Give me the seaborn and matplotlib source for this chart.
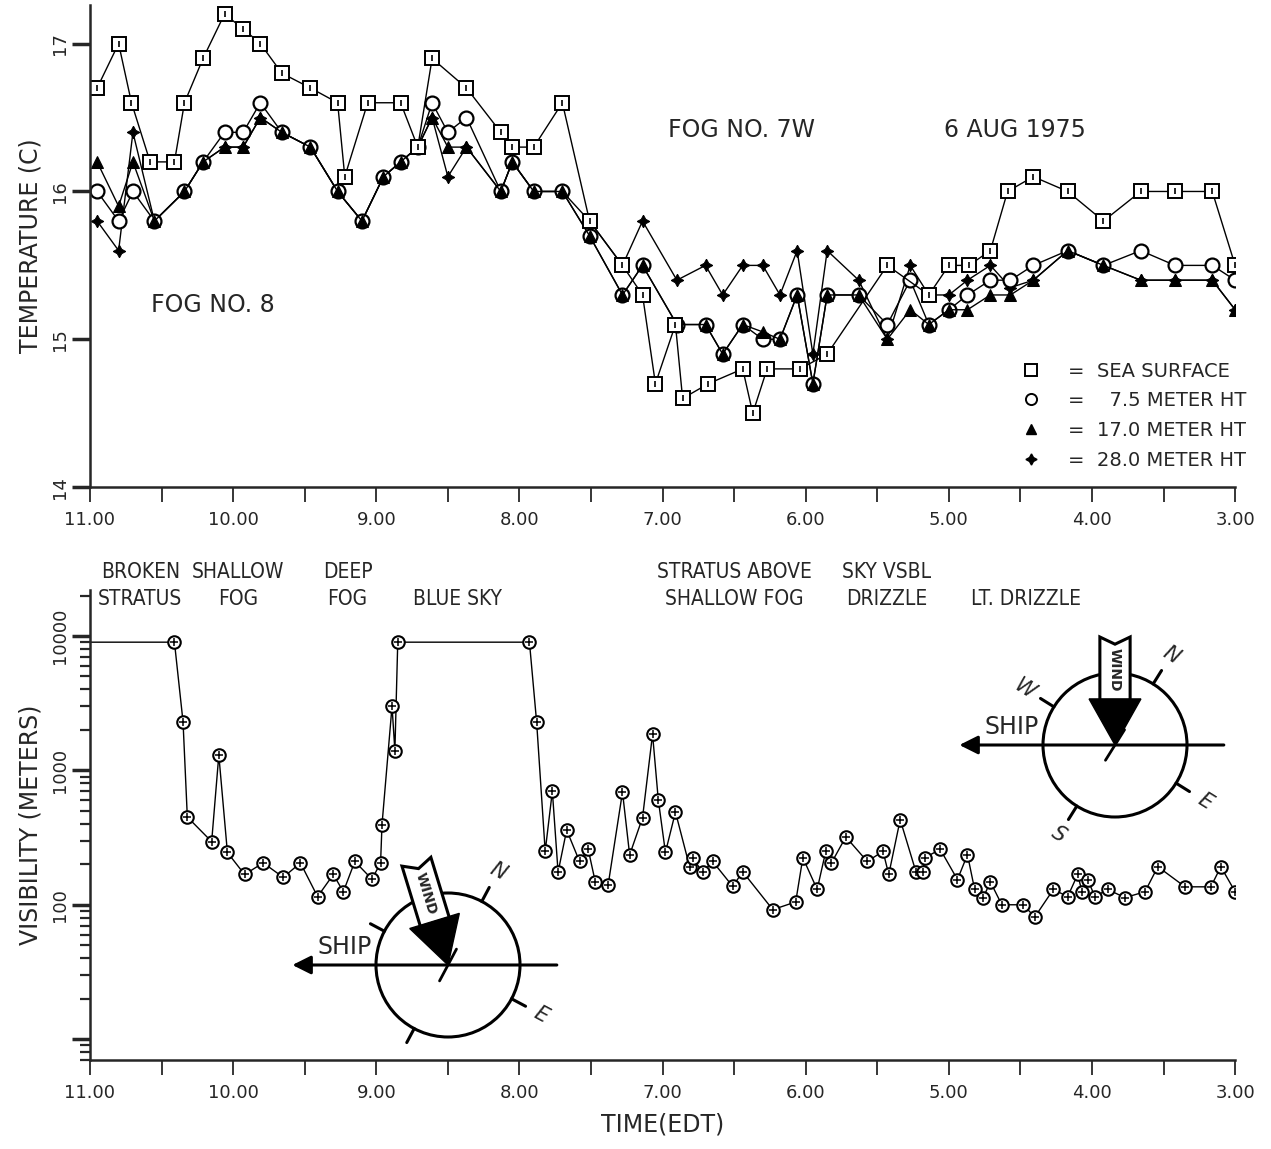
import numpy as np
import pandas as pd
import seaborn as sns
import matplotlib.pyplot as plt
import matplotlib.ticker as mticker
from matplotlib.lines import Line2D
from matplotlib.patches import Circle, Polygon

# Temperature, sea surface (time in hours, as labelled on the axis)
t_sea = [10.95, 10.80, 10.71, 10.58, 10.41, 10.34, 10.21, 10.06, 9.93, 9.81,
         9.66, 9.46, 9.27, 9.22, 9.06, 8.83, 8.71, 8.61, 8.37, 8.13,
         8.05, 7.90, 7.70, 7.51, 7.28, 7.14, 7.05, 6.91, 6.86, 6.68,
         6.44, 6.37, 6.27, 6.04, 5.85, 5.43, 5.14, 5.00, 4.86, 4.71,
         4.59, 4.41, 4.17, 3.92, 3.66, 3.42, 3.16, 3.00]
temp_sea = [16.7, 17.0, 16.6, 16.2, 16.2, 16.6, 16.9, 17.2, 17.1, 17.0,
            16.8, 16.7, 16.6, 16.1, 16.6, 16.6, 16.3, 16.9, 16.7, 16.4,
            16.3, 16.3, 16.6, 15.8, 15.5, 15.3, 14.7, 15.1, 14.6, 14.7,
            14.8, 14.5, 14.8, 14.8, 14.9, 15.5, 15.3, 15.5, 15.5, 15.6,
            16.0, 16.1, 16.0, 15.8, 16.0, 16.0, 16.0, 15.5]

# Temperature at the three mast heights
t_air = [10.95, 10.80, 10.70, 10.55, 10.34, 10.21, 10.06, 9.93, 9.81, 9.66,
         9.46, 9.27, 9.10, 8.95, 8.83, 8.71, 8.61, 8.50, 8.37, 8.13,
         8.05, 7.90, 7.70, 7.51, 7.28, 7.14, 6.90, 6.70, 6.58, 6.44,
         6.30, 6.18, 6.06, 5.95, 5.85, 5.63, 5.43, 5.27, 5.14, 5.00,
         4.87, 4.71, 4.57, 4.41, 4.17, 3.92, 3.66, 3.42, 3.16, 3.00]
temp_7_5 = [16.0, 15.8, 16.0, 15.8, 16.0, 16.2, 16.4, 16.4, 16.6, 16.4,
            16.3, 16.0, 15.8, 16.1, 16.2, 16.3, 16.6, 16.4, 16.5, 16.0,
            16.2, 16.0, 16.0, 15.7, 15.3, 15.5, 15.1, 15.1, 14.9, 15.1,
            15.0, 15.0, 15.3, 14.7, 15.3, 15.3, 15.1, 15.4, 15.1, 15.2,
            15.3, 15.4, 15.4, 15.5, 15.6, 15.5, 15.6, 15.5, 15.5, 15.4]
temp_17 = [16.2, 15.9, 16.2, 15.8, 16.0, 16.2, 16.3, 16.3, 16.5, 16.4,
           16.3, 16.0, 15.8, 16.1, 16.2, 16.3, 16.5, 16.3, 16.3, 16.0,
           16.2, 16.0, 16.0, 15.7, 15.3, 15.5, 15.1, 15.1, 14.9, 15.1,
           15.05, 15.0, 15.3, 14.7, 15.3, 15.3, 15.0, 15.2, 15.1, 15.2,
           15.2, 15.3, 15.3, 15.4, 15.6, 15.5, 15.4, 15.4, 15.4, 15.2]
temp_28 = [15.8, 15.6, 16.4, 15.8, 16.0, 16.2, 16.3, 16.3, 16.5, 16.4,
           16.3, 16.0, 15.8, 16.1, 16.2, 16.3, 16.5, 16.1, 16.3, 16.0,
           16.2, 16.0, 16.0, 15.8, 15.5, 15.8, 15.4, 15.5, 15.3, 15.5,
           15.5, 15.3, 15.6, 14.9, 15.6, 15.4, 15.0, 15.5, 15.3, 15.3,
           15.4, 15.5, 15.35, 15.4, 15.6, 15.5, 15.4, 15.4, 15.4, 15.2]

# Visibility (meters)
t_vis = [11.00, 10.41, 10.35, 10.32, 10.15, 10.10, 10.04, 9.92, 9.79, 9.65,
         9.53, 9.41, 9.30, 9.23, 9.15, 9.03, 8.97, 8.96, 8.89, 8.87,
         8.85, 7.93, 7.88, 7.82, 7.77, 7.73, 7.67, 7.58, 7.52, 7.47,
         7.38, 7.28, 7.23, 7.14, 7.07, 7.03, 6.98, 6.91, 6.81, 6.79,
         6.72, 6.65, 6.51, 6.44, 6.23, 6.07, 6.02, 5.92, 5.86, 5.82,
         5.72, 5.57, 5.46, 5.42, 5.34, 5.23, 5.18, 5.17, 5.06, 4.94,
         4.87, 4.82, 4.76, 4.71, 4.63, 4.48, 4.40, 4.27, 4.17, 4.10,
         4.07, 4.03, 3.98, 3.89, 3.77, 3.63, 3.54, 3.35, 3.17, 3.10, 3.00]
vis = [9000, 9000, 2300, 450, 295, 1300, 245, 168, 205, 160,
       205, 115, 168, 125, 210, 155, 205, 395, 3000, 1400,
       9000, 9000, 2300, 250, 700, 175, 360, 210, 260, 148,
       141, 690, 235, 445, 1860, 605, 245, 490, 190, 224,
       174, 210, 137, 176, 92, 105, 224, 130, 250, 205,
       320, 210, 250, 168, 430, 176, 174, 224, 258, 154,
       236, 130, 113, 148, 100, 100, 81, 130, 115, 168,
       125, 154, 115, 130, 113, 125, 192, 136, 136, 192, 125]

hour_ticks = [11, 10, 9, 8, 7, 6, 5, 4, 3]
hour_labels = ['11.00', '10.00', '9.00', '8.00', '7.00', '6.00', '5.00', '4.00', '3.00']
legend_labels = ['=  SEA SURFACE', '=    7.5 METER HT', '=  17.0 METER HT', '=  28.0 METER HT']
sky_notes = [('BROKEN\nSTRATUS', 0.044), ('SHALLOW\nFOG', 0.129), ('DEEP\nFOG', 0.225),
             ('\nBLUE SKY', 0.321), ('STRATUS ABOVE\nSHALLOW FOG', 0.563),
             ('SKY VSBL\nDRIZZLE', 0.696), ('\nLT. DRIZZLE', 0.817)]

sns.set_style('ticks')
plt.rcParams['font.family'] = ['DejaVu Sans']
narrow = ['Liberation Sans Narrow', 'DejaVu Sans']

W, H = 1271, 1149
fig = plt.figure(figsize=(W / 100, H / 100), dpi=100)
ax1 = fig.add_axes([0.0708, 0.576, 0.901, 0.4195])
ax2 = fig.add_axes([0.0708, 0.0775, 0.901, 0.409])

line_kw = dict(color='black', lw=1.0, sort=False, estimator=None, legend=False)

## TEMPERATURE
sns.lineplot(x=t_air, y=temp_28, ax=ax1, marker=(4, 1, 0), markersize=9,
             markerfacecolor='black', markeredgecolor='black', **line_kw)
sns.lineplot(x=t_air, y=temp_7_5, ax=ax1, marker='o', markersize=10,
             markerfacecolor='white', markeredgecolor='black', markeredgewidth=1.6, **line_kw)
sns.lineplot(x=t_air, y=temp_17, ax=ax1, marker='^', markersize=9,
             markerfacecolor='black', markeredgecolor='black', **line_kw)
sns.lineplot(x=t_sea, y=temp_sea, ax=ax1, marker='s', markersize=9.5,
             markerfacecolor='white', markeredgecolor='black', markeredgewidth=1.4, **line_kw)
ax1.plot(t_sea, temp_sea, ls='none', marker='|', ms=5, color='black', mew=1.2)

ax1.set_xlim(11, 3)
ax1.set_ylim(14, 17.26)
ax1.set_yticks([14, 15, 16, 17])
ax1.set_ylabel('TEMPERATURE (C)', fontsize=17, labelpad=6)
ax1.set_xlabel('')

ax1.text(0.107, 0.378, 'FOG NO. 8', transform=ax1.transAxes, fontsize=17, ha='center', va='center')
ax1.text(0.569, 0.741, 'FOG NO. 7W', transform=ax1.transAxes, fontsize=17, ha='center', va='center')
ax1.text(0.808, 0.741, '6 AUG 1975', transform=ax1.transAxes, fontsize=17, ha='center', va='center')

handles = [
    Line2D([], [], ls='none', marker='s', ms=8, mfc='white', mec='black', mew=1.4),
    Line2D([], [], ls='none', marker='o', ms=8, mfc='white', mec='black', mew=1.4),
    Line2D([], [], ls='none', marker='^', ms=7, mfc='black', mec='black'),
    Line2D([], [], ls='none', marker=(4, 1, 0), ms=8, mfc='black', mec='black'),
]
ax1.legend(handles, legend_labels, loc='lower right', bbox_to_anchor=(1.025, 0.0),
           frameon=False, handlelength=1.0, handletextpad=1.4, labelspacing=0.55,
           prop={'family': narrow, 'size': 14})

## VISIBILITY
sns.lineplot(x=t_vis, y=vis, ax=ax2, marker='o', markersize=9,
             markerfacecolor='white', markeredgecolor='black', markeredgewidth=1.5,
             markevery=list(range(1, len(vis))), **line_kw)
ax2.plot(t_vis[1:], vis[1:], ls='none', marker='+', ms=6, color='black', mew=1.1)

ax2.set_yscale('log')
ax2.set_xlim(11, 3)
ax2.set_ylim(7, 22000)
ax2.yaxis.set_major_locator(mticker.FixedLocator([10, 100, 1000, 10000]))
ax2.yaxis.set_major_formatter(mticker.FixedFormatter(['', '100', '1000', '10000']))
ax2.yaxis.set_minor_locator(mticker.LogLocator(base=10, subs=np.arange(2, 10)))
ax2.yaxis.set_minor_formatter(mticker.NullFormatter())
ax2.set_ylabel('VISIBILITY (METERS)', fontsize=17, labelpad=6)
ax2.set_xlabel('TIME(EDT)', fontsize=17, labelpad=8)

for label, fx in sky_notes:
    ax2.text(fx, 0.96, label, transform=ax2.transAxes, fontsize=15, ha='center', va='bottom',
             linespacing=1.45, clip_on=False, family=narrow, stretch='condensed')

for ax in (ax1, ax2):
    sns.despine(ax=ax)
    ax.spines['left'].set_linewidth(1.8)
    ax.spines['bottom'].set_linewidth(1.8)
    ax.set_xticks(hour_ticks)
    ax.set_xticklabels(hour_labels, fontsize=13)
    ax.xaxis.set_minor_locator(mticker.FixedLocator(np.arange(3.5, 11, 1.0)))
    ax.tick_params(axis='x', which='both', direction='out', length=11, width=1.3, pad=6,
                   bottom=True)
    ax.tick_params(axis='y', which='major', direction='out', length=13, width=2.5,
                   labelsize=13, labelrotation=90, pad=2, left=True)
    ax.tick_params(axis='y', which='minor', direction='out', length=7, width=1.6, left=True)
    for lab in ax.get_yticklabels():
        lab.set_va('center')

# wind / ship diagrams drawn on an overlay in figure pixels
ov = fig.add_axes([0, 0, 1, 1], zorder=5)
ov.set_xlim(0, W)
ov.set_ylim(0, H)
ov.axis('off')
ov.patch.set_alpha(0)


def draw_rose(cx, cy, r, north_deg, wind_deg, letters):
    ov.add_patch(Circle((cx, cy), r, fill=False, lw=2.2, color='black'))
    ov.annotate('', xy=(cx - 2.2 * r, cy), xytext=(cx + 1.55 * r, cy),
                arrowprops=dict(arrowstyle='-|>', lw=2.2, color='black', mutation_scale=28))
    ov.text(cx - 1.43 * r, cy + 0.08 * r, 'SHIP', fontsize=17, ha='center', va='bottom',
            family=narrow)
    dirs = {'N': north_deg, 'W': north_deg + 90, 'S': north_deg + 180, 'E': north_deg - 90}
    for name, ang in dirs.items():
        a = np.radians(ang)
        ov.plot([cx + r * np.cos(a), cx + 1.22 * r * np.cos(a)],
                [cy + r * np.sin(a), cy + 1.22 * r * np.sin(a)], color='black', lw=2.2)
        if name in letters:
            ov.text(cx + 1.47 * r * np.cos(a), cy + 1.47 * r * np.sin(a), name, fontsize=15,
                    ha='center', va='center', rotation=north_deg - 90, style='italic')
    # wind arrow, tail at wind_deg, tip at centre
    w = np.radians(wind_deg)
    u = -np.array([np.cos(w), np.sin(w)])
    v = np.array([-u[1], u[0]])
    c = np.array([cx, cy])

    def pt(s, q):
        return c - s * r * u + q * r * v

    ov.add_patch(Polygon([pt(0.62, 0.21), pt(1.5, 0.21), pt(1.4, 0.0), pt(1.5, -0.21), pt(0.62, -0.21)],
                         closed=True, facecolor='white', edgecolor='black', lw=2.2, zorder=3))
    ov.add_patch(Polygon([pt(0.0, 0.0), pt(0.64, 0.36), pt(0.64, -0.36)], closed=True,
                         facecolor='black', edgecolor='black', zorder=3))
    tx, ty = pt(1.04, 0.0)
    ov.text(tx, ty, 'WIND', fontsize=10, fontweight='bold', ha='center', va='center',
            rotation=np.degrees(np.arctan2(u[1], u[0])), zorder=4)
    # small cross mark at the centre
    k = np.radians(north_deg)
    ov.plot([cx - 0.25 * r * np.cos(k), cx + 0.25 * r * np.cos(k)],
            [cy - 0.25 * r * np.sin(k), cy + 0.25 * r * np.sin(k)], color='black', lw=2)


draw_rose(448, H - 965, 72, 62, 107, ['N', 'E'])
draw_rose(1115, H - 745, 72, 58, 90, ['N', 'E', 'S', 'W'])

fig.savefig('out.png', dpi=100, facecolor='white')
